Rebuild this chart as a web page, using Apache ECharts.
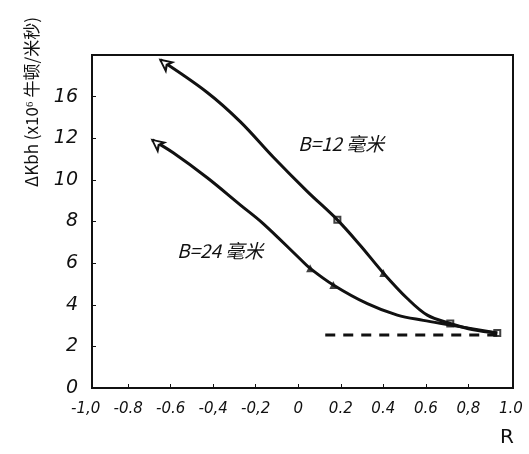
<!DOCTYPE html>
<html>
<head>
<meta charset="utf-8">
<script src="https://cdn.jsdelivr.net/npm/echarts@6/dist/echarts.min.js"></script>
<style>
  html, body { margin: 0; padding: 0; background: #fff; }
  #chart { width: 529px; height: 454px; }
</style>
</head>
<body>
<div id="chart"></div>
<script>
// R 轴刻度（数值 + 原图手写文字）
var xTickValues = [-1.0, -0.8, -0.6, -0.4, -0.2, 0, 0.2, 0.4, 0.6, 0.8, 1.0];
var xTickLabels = ['-1,0', '-0.8', '-0.6', '-0,4', '-0,2', '0', '0.2', '0.4', '0.6', '0,8', '1.0'];
// 纵轴刻度，原图 12 之后直接写的 16
var yTickValues = [0, 2, 4, 6, 8, 10, 12, 14];
var yTickLabels = ['0', '2', '4', '6', '8', '10', '12', '16'];

// B=12 毫米 曲线 [R, 值]
var b12Curve = [
  [-0.649, 15.77], [-0.428, 14.2], [-0.273, 12.8], [-0.118, 11.1], [0.042, 9.45],
  [0.184, 8.08], [0.292, 6.85], [0.40, 5.53], [0.513, 4.3], [0.607, 3.5],
  [0.715, 3.1], [0.824, 2.8], [0.936, 2.64]
];
var b12Marks = [[0.184, 8.08], [0.715, 3.1], [0.936, 2.64]];
var b12Tri = [[0.40, 5.53]];

// B=24 毫米 曲线
var b24Curve = [
  [-0.687, 11.92], [-0.588, 11.30], [-0.428, 10.1], [-0.273, 8.8], [-0.165, 7.9],
  [0.009, 6.2], [0.056, 5.75], [0.165, 4.95], [0.325, 4.05], [0.466, 3.5],
  [0.588, 3.25], [0.715, 3.03], [0.936, 2.64]
];
var b24Tri = [[0.056, 5.75], [0.165, 4.95]];

// 虚线渐近值
var baseLine = [[0.127, 2.55], [0.95, 2.55]];

var handFont = 'DejaVu Sans';

var chart = echarts.init(document.getElementById('chart'));

var arrowMark = {
  symbol: 'arrow', symbolSize: [8, 11], symbolRotate: 52,
  itemStyle: { color: '#fff', borderColor: '#111', borderWidth: 2 },
  label: { show: false }
};

var option = {
  animation: false,
  backgroundColor: '#fff',
  grid: {
    left: 92, right: 16, top: 55, bottom: 66,
    show: true, borderColor: '#111', borderWidth: 2
  },
  xAxis: {
    type: 'value', min: -0.97, max: 1.01,
    axisLine: { onZero: false, lineStyle: { color: '#111', width: 2 } },
    axisTick: { inside: true, length: 4, customValues: xTickValues.slice(1, 10), lineStyle: { color: '#111' } },
    splitLine: { show: false },
    axisLabel: {
      margin: 14, color: '#111', fontSize: 15, fontStyle: 'italic', fontFamily: handFont,
      customValues: xTickValues.slice(1),
      formatter: function (v) {
        var i = Math.round((v + 1) / 0.2);
        return xTickLabels[i] || '';
      }
    }
  },
  yAxis: {
    type: 'value', min: 0, max: 16,
    axisLine: { onZero: false, lineStyle: { color: '#111', width: 2 } },
    axisTick: { inside: true, length: 4, customValues: yTickValues, lineStyle: { color: '#111' } },
    splitLine: { show: false },
    axisLabel: {
      margin: 14, color: '#111', fontSize: 19, fontStyle: 'italic', fontFamily: handFont,
      customValues: yTickValues,
      formatter: function (v) {
        return yTickLabels[Math.round(v / 2)] || '';
      }
    }
  },
  graphic: [
    {
      type: 'text', x: 32, y: 102, rotation: Math.PI / 2,
      style: {
        text: 'ΔKbh (x10⁶ 牛顿/米秒)', fill: '#111',
        font: '17px "Noto Sans CJK SC"', align: 'center', verticalAlign: 'middle'
      }
    },
    {
      type: 'text', x: 500, y: 428,
      style: { text: 'R', fill: '#111', font: '20px ' + handFont }
    },
    {
      type: 'text', x: 298, y: 134,
      style: { text: 'B=12 毫米', fill: '#111', font: 'italic 19px "Noto Sans CJK SC"' }
    },
    {
      type: 'text', x: 177, y: 241,
      style: { text: 'B=24 毫米', fill: '#111', font: 'italic 19px "Noto Sans CJK SC"' }
    }
  ],
  series: [
    {
      name: 'B=12', type: 'line', data: b12Curve, smooth: 0.35,
      symbol: 'none', lineStyle: { color: '#111', width: 3 },
      markPoint: Object.assign({ data: [{ coord: b12Curve[0] }] }, arrowMark)
    },
    {
      name: 'B=24', type: 'line', data: b24Curve, smooth: 0.35,
      symbol: 'none', lineStyle: { color: '#111', width: 3 },
      markPoint: Object.assign({ data: [{ coord: b24Curve[0] }] }, arrowMark)
    },
    {
      name: 'B=12 方点', type: 'scatter', data: b12Marks,
      symbol: 'rect', symbolSize: 6,
      itemStyle: { color: '#fff', borderColor: '#111', borderWidth: 2 }
    },
    {
      name: '三角点', type: 'scatter', data: b12Tri.concat(b24Tri),
      symbol: 'triangle', symbolSize: 8,
      itemStyle: { color: '#111' }
    },
    {
      name: '基线', type: 'line', data: baseLine,
      symbol: 'none',
      lineStyle: { color: '#111', width: 3, type: [10, 8] }
    }
  ]
};

chart.setOption(option);

// -1,0 落在框线左侧，按坐标换算位置后补上
var p = chart.convertToPixel({ gridIndex: 0 }, [xTickValues[0], 0]);
chart.setOption({
  graphic: option.graphic.concat([{
    type: 'text', x: p[0], y: p[1] + 14,
    style: {
      text: xTickLabels[0], fill: '#111', align: 'center', verticalAlign: 'top',
      font: 'italic 15px ' + handFont
    }
  }])
});
</script>
</body>
</html>
